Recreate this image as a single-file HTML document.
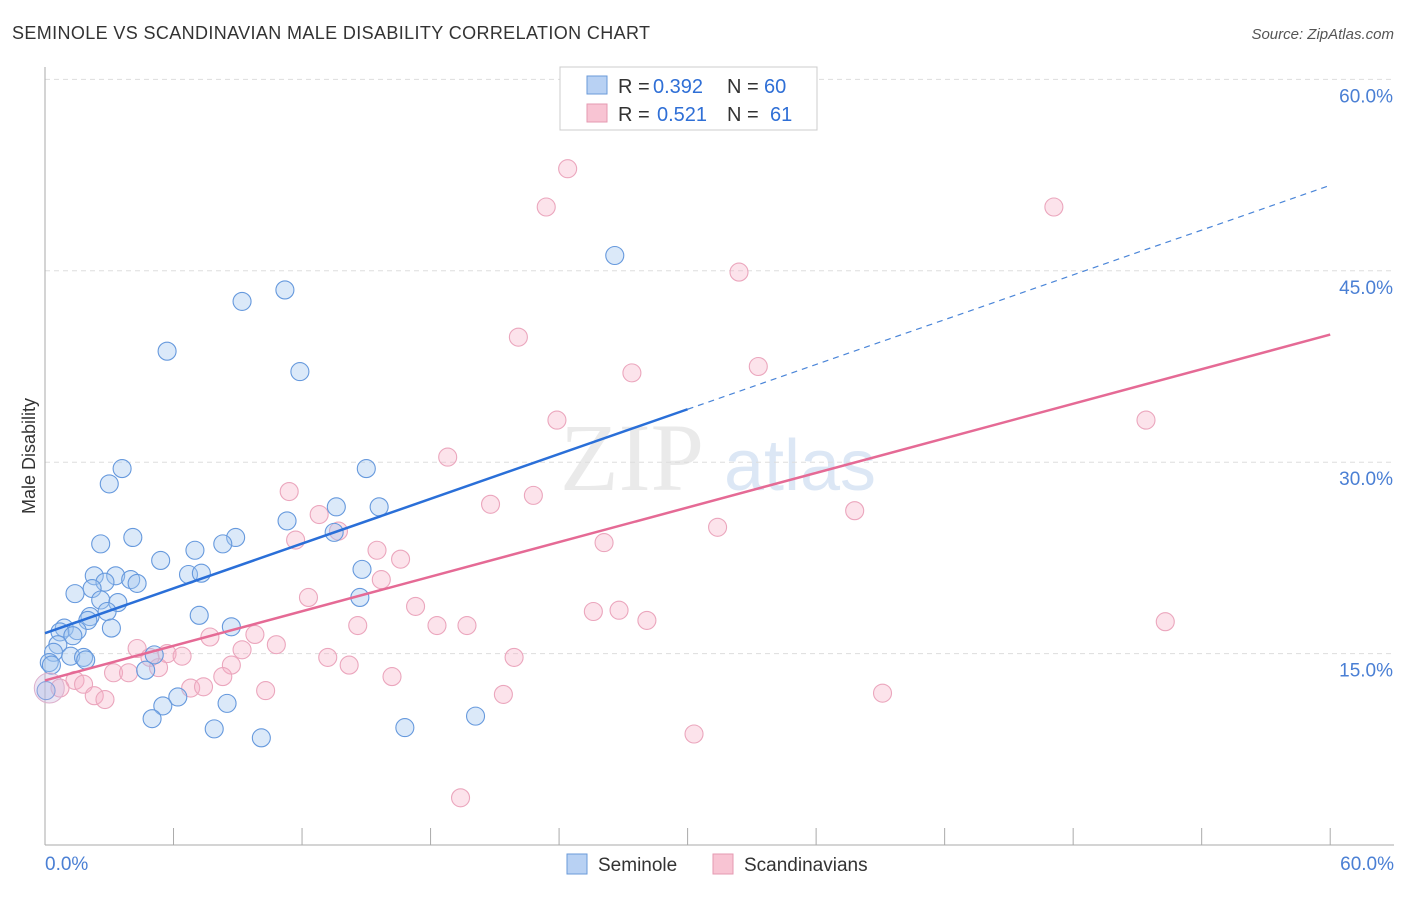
<!DOCTYPE html>
<html><head><meta charset="utf-8"><style>
body{margin:0;background:#fff;font-family:"Liberation Sans",sans-serif}
</style></head><body>
<svg id="c" width="1406" height="892" xmlns="http://www.w3.org/2000/svg" style="font-family:'Liberation Sans',sans-serif">
<text x="12" y="39" font-size="18" fill="#333" textLength="638" lengthAdjust="spacing">SEMINOLE VS SCANDINAVIAN MALE DISABILITY CORRELATION CHART</text>
<text x="1394" y="39" font-size="15" fill="#555" font-style="italic" text-anchor="end">Source: ZipAtlas.com</text>
<text x="35" y="456" font-size="18" fill="#333" text-anchor="middle" transform="rotate(-90 35 456)">Male Disability</text>
<g><text x="632" y="490" font-size="96" fill="#ddd" font-family="Liberation Serif,serif" text-anchor="middle" opacity="0.6">ZIP</text><text x="800" y="490" font-size="72" fill="#c5d8f0" text-anchor="middle" opacity="0.6">atlas</text></g>
<g id="grid"></g><g id="axes"></g><g id="pts"></g><g id="lines"></g>
<g>
<rect x="560" y="67" width="257" height="63" fill="#fff" stroke="#ccc"/>
<rect x="587" y="76" width="20" height="18" fill="#b8d1f3" stroke="#6a9ad8"/>
<rect x="587" y="104" width="20" height="18" fill="#f8c4d3" stroke="#e59ab2"/>
<text x="618" y="93" font-size="20" fill="#333">R =</text>
<text x="653" y="93" font-size="20" fill="#2f6fd6">0.392</text>
<text x="727" y="93" font-size="20" fill="#333">N =</text>
<text x="764" y="93" font-size="20" fill="#2f6fd6">60</text>
<text x="618" y="121" font-size="20" fill="#333">R =</text>
<text x="657" y="121" font-size="20" fill="#2f6fd6">0.521</text>
<text x="727" y="121" font-size="20" fill="#333">N =</text>
<text x="770" y="121" font-size="20" fill="#2f6fd6">61</text>
</g>
<g>
<rect x="567" y="854" width="20" height="20" fill="#b8d1f3" stroke="#6a9ad8"/>
<text x="598" y="871" font-size="19" fill="#333">Seminole</text>
<rect x="713" y="854" width="20" height="20" fill="#f8c4d3" stroke="#e59ab2"/>
<text x="744" y="871" font-size="19" fill="#333">Scandinavians</text>
</g>
</svg>
<script>
const yTicks=[15,30,45,60];
const yTickLabels=["15.0%","30.0%","45.0%","60.0%"];
const xTickLabels=["0.0%","60.0%"];
const blueX=[26.6,11.2,9.2,5.7,11.9,15.0,3.6,3.0,13.6,15.6,11.3,13.5,2.6,4.1,8.9,8.3,7.0,5.4,14.8,2.3,3.3,4.0,6.7,7.3,2.8,4.3,2.2,1.4,2.6,3.4,14.7,2.1,7.2,2.9,2.0,3.1,8.7,0.9,0.7,1.5,1.3,0.6,0.4,5.1,1.2,1.8,0.2,1.9,4.7,6.2,5.5,8.5,5.0,7.9,10.1,16.8,20.1,0.3,0.05];
const blueY=[46.2,43.5,42.6,38.7,37.1,29.5,29.5,28.3,26.5,26.5,25.4,24.5,23.6,24.1,24.1,23.6,23.1,22.3,21.6,21.1,21.1,20.8,21.2,21.3,20.6,20.5,20.1,19.7,19.2,19.0,19.4,17.9,18.0,18.3,17.6,17.0,17.1,17.0,16.7,16.8,16.4,15.7,15.1,14.9,14.8,14.7,14.3,14.5,13.7,11.6,10.9,11.1,9.9,9.1,8.4,9.2,10.1,14.1,12.1];
const pinkX=[24.4,23.4,47.1,32.4,22.1,33.3,27.4,23.9,51.4,18.8,11.4,22.8,20.8,37.8,12.8,13.7,31.4,11.7,15.5,26.1,16.6,15.7,12.3,17.3,25.6,26.8,14.6,18.3,19.7,28.1,52.3,7.7,9.8,4.3,5.7,6.4,9.2,10.8,4.9,5.3,8.7,13.2,14.2,21.9,3.2,3.9,8.3,16.2,6.8,7.4,10.3,1.4,1.8,2.3,2.8,0.7,21.4,39.1,30.3,19.4];
const pinkY=[53.0,50.0,50.0,44.9,39.8,37.5,37.0,33.3,33.3,30.4,27.7,27.4,26.7,26.2,25.9,24.6,24.9,23.9,23.1,23.7,22.4,20.8,19.4,18.7,18.3,18.4,17.2,17.2,17.2,17.6,17.5,16.3,16.5,15.4,15.0,14.8,15.3,15.7,14.7,13.9,14.1,14.7,14.1,14.7,13.5,13.5,13.2,13.2,12.3,12.4,12.1,12.9,12.6,11.7,11.4,12.3,11.8,11.9,8.7,3.7];
const blueTrend=[16.6,51.7], blueSolidEnd=30;
const pinkTrend=[12.9,40.0];
const NS="http://www.w3.org/2000/svg";
const X=v=>45+v*21.42, Y=v=>845-v*12.76;
function mk(tag,a,p){const e=document.createElementNS(NS,tag);for(const k in a)e.setAttribute(k,a[k]);p.appendChild(e);return e;}
const grid=document.getElementById('grid');
yTicks.forEach((t,i)=>{
 const l=mk('line',{x1:45,x2:1394,y1:Y(t),y2:Y(t),stroke:'#ddd','stroke-dasharray':'5,4'},grid);
 
 
 const tx=mk('text',{x:1393,y:Y(t)+23,'font-size':19,fill:'#4a7fd4','text-anchor':'end'},grid);
 tx.textContent=yTickLabels[i];
 
 
});
const ax=document.getElementById('axes');
mk('line',{x1:45,x2:45,y1:67,y2:845,stroke:'#aaa'},ax);
mk('line',{x1:45,x2:1394,y1:845,y2:845,stroke:'#aaa'},ax);
for(let i=0;i<=10;i++){mk('line',{x1:X(i*6),x2:X(i*6),y1:845,y2:828,stroke:'#aaa'},ax);}
[[0,'start',45],[60,'end',1394]].forEach((d,i)=>{
 const t=mk('text',{x:d[2],y:870,'font-size':19,fill:'#4a7fd4','text-anchor':d[1]},ax);
 t.textContent=xTickLabels[i];
 
 
});
const pts=document.getElementById('pts');
pinkX.forEach((x,i)=>{
 const c=mk('circle',{cx:X(x),cy:Y(pinkY[i]),r:9,fill:'rgba(246,176,198,0.35)',stroke:'#eba6bd','stroke-width':1.1},pts);
 
 
});
blueX.forEach((x,i)=>{
 const c=mk('circle',{cx:X(x),cy:Y(blueY[i]),r:9,fill:'rgba(160,196,240,0.38)',stroke:'#6699dd','stroke-width':1.1},pts);
 
 
});
const big=mk('circle',{cx:X(0.2),cy:Y(12.3),r:15,fill:'rgba(200,180,220,0.35)',stroke:'#ddb0cc'},pts);


const ln=document.getElementById('lines');
const bAt=v=>blueTrend[0]+(blueTrend[1]-blueTrend[0])*v/60;
let l1=mk('line',{x1:X(0),y1:Y(bAt(0)),x2:X(blueSolidEnd),y2:Y(bAt(blueSolidEnd)),stroke:'#2a6fd8','stroke-width':2.5},ln);


let l2=mk('line',{x1:X(blueSolidEnd),y1:Y(bAt(blueSolidEnd)),x2:X(60),y2:Y(bAt(60)),stroke:'#4a85d8','stroke-width':1.2,'stroke-dasharray':'6,5'},ln);


let l3=mk('line',{x1:X(0),y1:Y(pinkTrend[0]),x2:X(60),y2:Y(pinkTrend[1]),stroke:'#e56a95','stroke-width':2.5},ln);


</script>
</body></html>
